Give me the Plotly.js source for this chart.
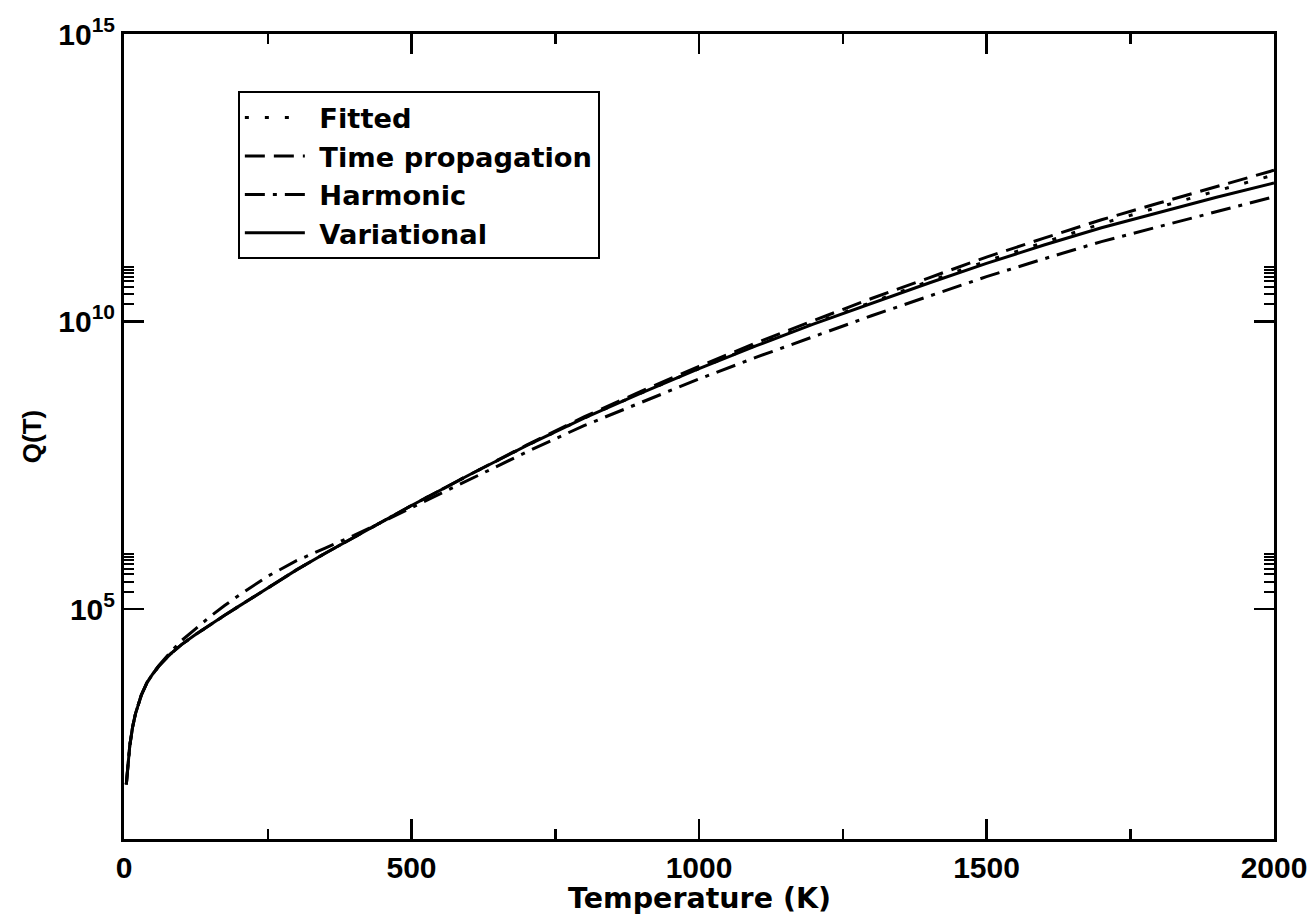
<!DOCTYPE html>
<html>
<head>
<meta charset="utf-8">
<script src="https://cdn.plot.ly/plotly-3.0.1.min.js"></script>
<style>html,body{margin:0;padding:0;background:#fff;}</style>
</head>
<body>
<div id="chart" style="width:1314px;height:920px;"></div>
<script>
// Temperature grid (K)
const temperature = [4, 6, 10, 15, 20, 30, 40, 50, 60, 80, 100, 125, 150, 175, 200, 250, 300, 350, 400, 450, 500, 600, 700, 800, 900, 1000, 1100, 1200, 1300, 1400, 1500, 1600, 1700, 1800, 1900, 2000];

// log10 Q(T)
const logFitted = [1.95, 2.2, 2.62, 2.95, 3.18, 3.50, 3.72, 3.87, 4.00, 4.21, 4.38, 4.56, 4.73, 4.89, 5.05, 5.37, 5.68, 5.97, 6.25, 6.53, 6.80, 7.33, 7.84, 8.32, 8.76, 9.18, 9.59, 9.97, 10.34, 10.70, 11.05, 11.38, 11.70, 11.99, 12.27, 12.55];
const logTimeProp = [1.95, 2.2, 2.62, 2.95, 3.18, 3.50, 3.72, 3.87, 4.00, 4.21, 4.38, 4.56, 4.73, 4.89, 5.05, 5.37, 5.68, 5.97, 6.25, 6.53, 6.80, 7.33, 7.85, 8.34, 8.79, 9.22, 9.63, 10.02, 10.40, 10.76, 11.12, 11.45, 11.77, 12.06, 12.35, 12.63];
const logHarmonic = [1.95, 2.2, 2.62, 2.95, 3.18, 3.50, 3.72, 3.87, 4.01, 4.24, 4.45, 4.66, 4.87, 5.06, 5.24, 5.57, 5.84, 6.06, 6.28, 6.52, 6.76, 7.25, 7.73, 8.19, 8.60, 9.00, 9.38, 9.74, 10.10, 10.44, 10.78, 11.09, 11.39, 11.65, 11.91, 12.17];
const logVariational = [1.95, 2.2, 2.62, 2.95, 3.18, 3.50, 3.72, 3.87, 4.00, 4.21, 4.38, 4.56, 4.73, 4.89, 5.05, 5.37, 5.68, 5.97, 6.25, 6.53, 6.80, 7.33, 7.84, 8.32, 8.76, 9.18, 9.58, 9.96, 10.32, 10.67, 11.01, 11.33, 11.63, 11.90, 12.16, 12.41];

const seriesNames = ["Fitted", "Time propagation", "Harmonic", "Variational"];
const xTitle = "Temperature (K)";
const yTitle = "Q(T)";
const xTickVals = [0, 500, 1000, 1500, 2000];
const xMinorVals = [250, 750, 1250, 1750];
const yTickVals = [1e5, 1e10, 1e15];
const yTickText = ["10<sup>5</sup>", "10<sup>10</sup>", "10<sup>15</sup>"];
const yMinorVals = [2e5, 3e5, 4e5, 5e5, 6e5, 7e5, 8e5, 9e5, 2e10, 3e10, 4e10, 5e10, 6e10, 7e10, 8e10, 9e10];

const toQ = arr => arr.map(v => Math.pow(10, v));
const HELV = "Liberation Sans";
const WIDE = "DejaVu Sans";

const dashes = ["4px,16px", "20px,9px", "20px,8px,4px,8px", "solid"];
const logs = [logFitted, logTimeProp, logHarmonic, logVariational];

const traces = seriesNames.map((name, i) => ({
  x: temperature,
  y: toQ(logs[i]),
  name: "\u00a0" + name,
  type: "scatter",
  mode: "lines",
  line: {color: "black", width: 3, dash: dashes[i]}
}));

const axisCommon = {
  showgrid: false,
  zeroline: false,
  showline: true,
  linewidth: 3,
  linecolor: "black",
  mirror: "ticks",
  ticks: "inside",
  ticklen: 20,
  tickwidth: 2.5,
  tickcolor: "black",
  tickfont: {family: HELV, size: 30, weight: "bold", color: "black"}
};

const layout = {
  width: 1314,
  height: 920,
  margin: {l: 124, r: 40, t: 34, b: 81},
  paper_bgcolor: "white",
  plot_bgcolor: "white",
  showlegend: true,
  xaxis: Object.assign({}, axisCommon, {
    range: [0, 2000],
    tickmode: "array",
    tickvals: xTickVals,
    ticktext: xTickVals.map(String),
    minor: {tickmode: "array", tickvals: xMinorVals, ticks: "inside", ticklen: 10, tickwidth: 2.5, tickcolor: "black"}
  }),
  yaxis: Object.assign({}, axisCommon, {
    type: "log",
    range: [1, 15],
    tickmode: "array",
    tickvals: yTickVals,
    ticktext: yTickText,
    minor: {tickmode: "array", tickvals: yMinorVals, ticks: "inside", ticklen: 10, tickwidth: 2, tickcolor: "black"},
    title: {text: yTitle, font: {family: HELV, size: 26, weight: "bold", color: "black"}, standoff: 10}
  }),
  annotations: [{
    text: xTitle, xref: "paper", yref: "paper", x: 0.5, y: -0.074,
    xanchor: "center", yanchor: "middle", showarrow: false,
    font: {family: WIDE, size: 28.5, weight: "bold", color: "black"}
  }],
  legend: {
    x: 0.099, y: 0.929, xanchor: "left", yanchor: "top",
    bgcolor: "white", bordercolor: "black", borderwidth: 2,
    font: {family: WIDE, size: 27.3, weight: "bold", color: "black"},
    itemwidth: 60,
    tracegroupgap: 0
  }
};

Plotly.newPlot("chart", traces, layout, {displayModeBar: false, staticPlot: true});
</script>
</body>
</html>
